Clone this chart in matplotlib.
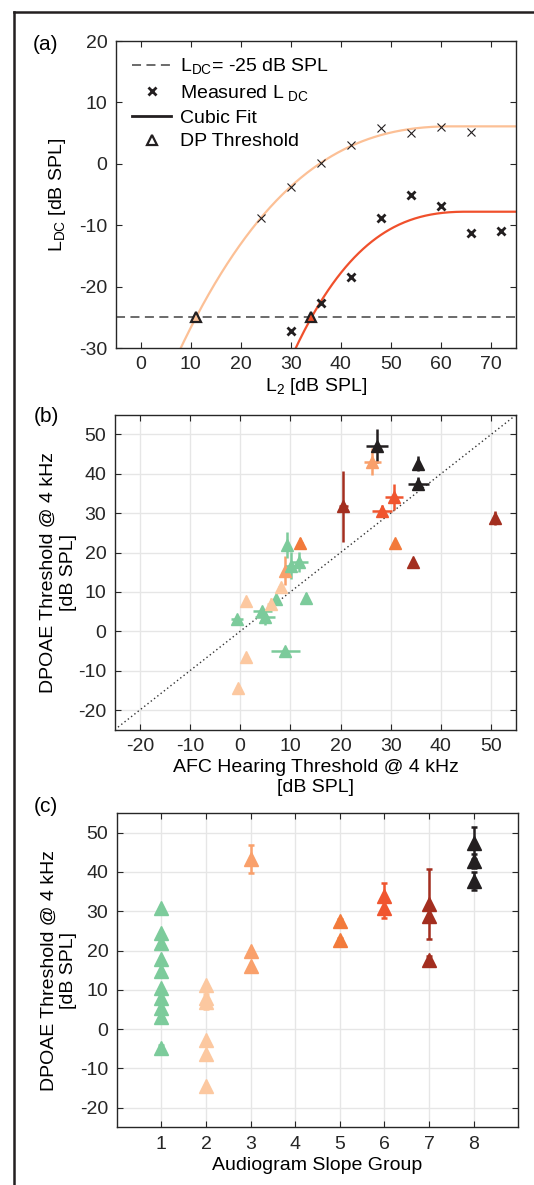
import numpy as np
import matplotlib
matplotlib.use('Agg')
import matplotlib.pyplot as plt
from matplotlib.lines import Line2D

plt.rcParams['font.family'] = ['Liberation Sans', 'DejaVu Sans']
plt.rcParams['mathtext.default'] = 'regular'
plt.rcParams['axes.unicode_minus'] = False
plt.rcParams['font.size'] = 14

# ---- panel (a): DC level vs L2 ----
a_L2_light = [24, 30, 36, 42, 48, 54, 60, 66]
a_ldc_light = [-8.8, -3.7, 0.2, 3.0, 5.8, 5.0, 6.0, 5.2]
a_L2_red = [30, 36, 42, 48, 54, 60, 66, 72]
a_ldc_red = [-27.3, -22.6, -18.5, -8.8, -5.0, -6.8, -11.2, -11.0]

# points, plus where each curve levels off
fit_x_light = [8, 11, 24, 30, 36, 42, 48, 54, 60]
fit_y_light = [-30, -25, -9.0, -3.6, 0.2, 3.0, 4.6, 5.5, 6.0]
peak_light = (62, 6.1)
fit_x_red = [31.2, 34, 36, 42, 48, 54, 60]
fit_y_red = [-30, -25, -22, -16, -11.6, -9.6, -8.2]
peak_red = (65, -7.8)

dp_thresh_x = [11, 34]
dc_criterion = -25

# ---- panel (b): DPOAE threshold vs AFC threshold ----
b_afc = [27.2, 35.5, 35.5, 26.3, 9.0, 12.0, 30.8, 20.5, 34.5, 50.7, 28.2, 30.7,
         9.3, 10.1, 11.8, 7.2, 13.2, 4.4, 4.9, -0.6, 9.0,
         1.1, 6.1, 8.1, 1.1, -0.4]
b_dpoae = [47.0, 42.6, 37.5, 43.1, 15.4, 22.3, 22.3, 31.8, 17.5, 28.8, 30.5, 34.0,
           21.9, 16.7, 17.6, 8.3, 8.5, 5.2, 3.6, 3.1, -5.1,
           7.8, 7.0, 11.3, -6.6, -14.4]
b_afc_err = [2.2, 0, 2.1, 1.7, 0.5, 0.5, 0, 0.9, 0, 0, 2.0, 1.8,
             0.4, 1.2, 1.7, 0.3, 0, 1.9, 2.0, 1.2, 2.9,
             0, 0.8, 0.5, 0, 0]
b_dpoae_err = [4.3, 1.8, 1.7, 3.5, 3.7, 1.5, 1.2, 9.0, 1.2, 1.8, 1.5, 3.3,
               3.3, 3.5, 2.5, 0.8, 1.2, 1.0, 2.0, 0.8, 0.5,
               0, 1.5, 1.0, 0, 0]
b_group = [8, 8, 8, 3, 3, 5, 5, 7, 7, 7, 6, 6,
           1, 1, 1, 1, 1, 1, 1, 1, 1,
           2, 2, 2, 2, 2]

# ---- panel (c): DPOAE threshold by audiogram slope group ----
c_group = [1] * 10 + [2] * 6 + [3] * 3 + [5] * 2 + [6] * 2 + [7] * 3 + [8] * 3
c_dpoae = [30.9, 24.4, 21.8, 17.9, 14.9, 10.5, 7.9, 5.3, 3.2, -4.9,
           11.1, 7.9, 7.0, -2.9, -6.3, -14.4,
           43.3, 20.0, 16.1,
           27.4, 22.6,
           34.0, 30.7,
           31.8, 28.9, 17.5,
           47.4, 42.8, 37.6]
c_err = [0, 0, 0, 0, 0, 0, 0, 0, 0.8, 0.8,
         0, 0, 2.0, 0, 0, 0,
         3.6, 0, 0,
         0.6, 0.6,
         3.3, 2.4,
         8.9, 1.7, 1.0,
         4.1, 1.8, 2.3]

group_colors = {1: '#7ccb9b', 2: '#fcc8a0', 3: '#f9a06b', 5: '#f27a3b',
                6: '#f0552f', 7: '#a32e1f', 8: '#231f20'}
light_curve = '#fcc096'
red_curve = '#f0502c'
grid_col = '#e6e6e6'


def capped_cubic(px, py, peak, xs):
    # cubic with zero slope at the peak, held flat after it
    xp, yp = peak
    d = xp - np.asarray(px, float)
    A = np.column_stack([d ** 2, d ** 3])
    k, m = np.linalg.lstsq(A, yp - np.asarray(py, float), rcond=None)[0]
    dd = np.clip(xp - xs, 0, None)
    return yp - k * dd ** 2 - m * dd ** 3


fig = plt.figure(figsize=(5.34, 11.85), dpi=100)

# outer frame (left and top edges only)
fx = 13.6 / 534
fy = 1 - 11.5 / 1185
fig.add_artist(Line2D([fx, fx], [0, fy], transform=fig.transFigure, color='#231f20', lw=1.8))
fig.add_artist(Line2D([fx, 1], [fy, fy], transform=fig.transFigure, color='#231f20', lw=1.8))


def style_axes(ax):
    ax.tick_params(direction='in', top=True, right=True, length=4, width=0.8,
                   labelsize=14, pad=6, colors='#262626')
    for s in ax.spines.values():
        s.set_linewidth(1.0)
        s.set_color('#262626')


# (a)
ax1 = fig.add_axes([0.2169, 0.7063, 0.749, 0.2591])
xs = np.linspace(5, 75, 400)
ax1.plot(xs, capped_cubic(fit_x_light, fit_y_light, peak_light, xs),
         color=light_curve, lw=1.6, zorder=2)
ax1.plot(xs, capped_cubic(fit_x_red, fit_y_red, peak_red, xs),
         color=red_curve, lw=1.6, zorder=2)
ax1.axhline(dc_criterion, color='#5f5f5f', lw=1.3, ls=(0, (5, 3)), zorder=1)
ax1.plot(a_L2_light, a_ldc_light, 'x', color='#231f20', ms=6, mew=0.8, zorder=3)
ax1.plot(a_L2_red, a_ldc_red, 'x', color='#231f20', ms=5.5, mew=2.0, zorder=3)
for tx, col in zip(dp_thresh_x, [light_curve, red_curve]):
    ax1.plot(tx, dc_criterion, '^', ms=7, mfc=col, mec='#231f20', mew=1.6, zorder=4)
ax1.set_xlim(-5, 75)
ax1.set_ylim(-30, 20)
ax1.set_xticks(np.arange(0, 71, 10))
ax1.set_yticks(np.arange(-30, 21, 10))
ax1.set_xlabel(r'L$_2$ [dB SPL]', fontsize=14, labelpad=2)
ax1.set_ylabel(r'L$_{DC}$ [dB SPL]', fontsize=14)
ax1.yaxis.set_label_coords(-0.12, 0.5)
style_axes(ax1)
handles = [Line2D([], [], color='#5f5f5f', lw=1.3, ls=(0, (5, 3))),
           Line2D([], [], color='#231f20', marker='x', ls='none', ms=5.5, mew=2.0),
           Line2D([], [], color='#231f20', lw=2.0),
           Line2D([], [], color='#231f20', marker='^', ls='none', ms=7, mfc='white', mew=1.6)]
labels = [r'L$_{DC}$= -25 dB SPL', r'Measured L$_{\ DC}$', 'Cubic Fit', 'DP Threshold']
ax1.legend(handles, labels, loc='upper left', frameon=False, fontsize=14,
           handlelength=2.0, handletextpad=0.45, labelspacing=0.32,
           bbox_to_anchor=(0.022, 0.975), borderaxespad=0)
fig.text(46 / 534, 1 - 44 / 1185, '(a)', fontsize=15, ha='center', va='center')

# (b)
ax2 = fig.add_axes([0.2148, 0.3842, 0.7519, 0.2658])
ax2.grid(True, color=grid_col, lw=1.0)
ax2.set_axisbelow(True)
ax2.plot([-25, 55], [-25, 55], ls=(0, (1, 2)), color='#333333', lw=1.0, zorder=1)
for i in range(len(b_afc)):
    col = group_colors[b_group[i]]
    ax2.errorbar(b_afc[i], b_dpoae[i], xerr=b_afc_err[i], yerr=b_dpoae_err[i],
                 fmt='^', color=col, ms=8, mec=col, elinewidth=1.8, capsize=0, zorder=3)
ax2.set_xlim(-25, 55)
ax2.set_ylim(-25, 55)
ax2.set_xticks(np.arange(-20, 51, 10))
ax2.set_yticks(np.arange(-20, 51, 10))
ax2.set_xlabel('AFC Hearing Threshold @ 4 kHz\n[dB SPL]', fontsize=14, labelpad=3)
ax2.set_ylabel('DPOAE Threshold @ 4 kHz\n[dB SPL]', fontsize=14)
ax2.yaxis.set_label_coords(-0.095, 0.5)
style_axes(ax2)
fig.text(46 / 534, 1 - 416 / 1185, '(b)', fontsize=15, ha='center', va='center')

# (c)
ax3 = fig.add_axes([0.2187, 0.0487, 0.7517, 0.2652])
ax3.grid(True, color=grid_col, lw=1.0)
ax3.set_axisbelow(True)
for i in range(len(c_group)):
    col = group_colors[c_group[i]]
    ax3.errorbar(c_group[i], c_dpoae[i], yerr=c_err[i], fmt='^', color=col, ms=10,
                 mec=col, elinewidth=1.8, capsize=2.5, capthick=1.8, zorder=3)
ax3.set_xlim(0, 9)
ax3.set_ylim(-25, 55)
ax3.set_xticks(np.arange(1, 9))
ax3.set_yticks(np.arange(-20, 51, 10))
ax3.set_xlabel('Audiogram Slope Group', fontsize=14, labelpad=3)
ax3.set_ylabel('DPOAE Threshold @ 4 kHz\n[dB SPL]', fontsize=14)
ax3.yaxis.set_label_coords(-0.098, 0.5)
style_axes(ax3)
fig.text(46 / 534, 1 - 807 / 1185, '(c)', fontsize=15, ha='center', va='center')

fig.savefig('out.png', dpi=100)
